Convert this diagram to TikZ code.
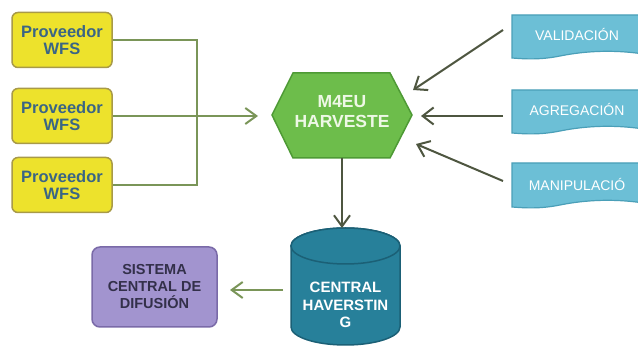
\documentclass[tikz,border=0pt]{standalone}
\usepackage{fontspec}
\setmainfont{Liberation Sans}
\usetikzlibrary{arrows.meta}
\definecolor{yfill}{HTML}{EDE22C}
\definecolor{ydraw}{HTML}{A89A48}
\definecolor{ytext}{HTML}{3A6585}
\definecolor{gfill}{HTML}{6DBD4B}
\definecolor{gdraw}{HTML}{4E9A35}
\definecolor{gtext}{HTML}{EEF8E6}
\definecolor{cfill}{HTML}{27809A}
\definecolor{cdraw}{HTML}{1B6076}
\definecolor{pfill}{HTML}{A294CF}
\definecolor{pdraw}{HTML}{7A6AA8}
\definecolor{ptext}{HTML}{33304A}
\definecolor{bfill}{HTML}{6CBFD6}
\definecolor{bdraw}{HTML}{4A9FB8}
\definecolor{lgreen}{HTML}{7A9558}
\definecolor{ldark}{HTML}{4E5640}
\tikzset{
  provbox/.style={draw=ydraw, fill=yfill, line width=1.5pt, rounded corners=6pt,
    minimum width=100pt, minimum height=55pt, align=center, text=ytext,
    font=\bfseries\fontsize{16.5}{17.5}\selectfont},
  conn/.style={draw=lgreen, line width=2pt},
  darr/.style={draw=ldark, line width=2pt, -{Straight Barb[length=11pt,width=17pt]}},
  garr/.style={draw=lgreen, line width=2pt, -{Straight Barb[length=11pt,width=16pt]}},
  doctext/.style={text=white, font=\fontsize{14}{16}\selectfont},
}
\begin{document}
\begin{tikzpicture}[x=1pt,y=-1pt]
\useasboundingbox (0,0) rectangle (638,347);
\clip (0,0) rectangle (638,347);
\fill[white] (0,0) rectangle (638,347);

% providers
\node[provbox] (p1) at (62,40) {Proveedor\\WFS};
\node[provbox] (p2) at (62,116) {Proveedor\\WFS};
\node[provbox] (p3) at (62,185) {Proveedor\\WFS};

% hexagon
\draw[fill=gfill, draw=gdraw, line width=1.5pt]
  (272,115) -- (293,73) -- (390,73) -- (412,115) -- (390,158) -- (293,158) -- cycle;
\coordinate (hexL) at (258,116);
\coordinate (hexB) at (342,158);
\node[text=gtext, align=center, font=\bfseries\fontsize{17.5}{20}\selectfont] (hex) at (342,112) {M4EU\\HARVESTE};

% cylinder
\draw[fill=cfill, draw=cdraw, line width=1.5pt]
  (291,246) -- (291,327) arc[start angle=180, end angle=0, x radius=54.5, y radius=18]
  -- (400,246) arc[start angle=360, end angle=180, x radius=54.5, y radius=18] -- cycle;
\draw[fill=cfill, draw=cdraw, line width=1.5pt] (345.5,246) ellipse[x radius=54.5, y radius=18];
\coordinate (cylT) at (342,228);
\coordinate (cylL) at (283,290);
\node[text=white, align=center, font=\bfseries\fontsize{15}{17.5}\selectfont] (cyl) at (345.5,305) {CENTRAL\\HAVERSTIN\\G};

% dissemination system
\node[draw=pdraw, fill=pfill, line width=1.5pt, rounded corners=8pt,
  minimum width=125pt, minimum height=80pt, align=center, text=ptext,
  font=\bfseries\fontsize{14.5}{17}\selectfont] (sis) at (154.5,287)
  {SISTEMA\\CENTRAL DE\\DIFUSIÓN};
\coordinate (sisR) at (230,290);

% documents
\foreach \t/\b in {15/58, 90/133, 163/207}{
  \draw[fill=bfill, draw=bdraw, line width=1.2pt]
    (512,\t) -- (650,\t) -- (650,\b-3)
    .. controls (615,\b-9) and (585,\b-7) .. (560,\b-2)
    .. controls (540,\b+2) and (525,\b+1) .. (512,\b) -- cycle;
}
\node[doctext] (val) at (577,35) {VALIDACIÓN};
\node[doctext] (agr) at (577,110) {AGREGACIÓN};
\node[doctext] (man) at (577,185) {MANIPULACIÓ};
\coordinate (v0) at (503,30);
\coordinate (v1) at (413,90);
\coordinate (g0) at (503,116);
\coordinate (g1) at (421,116);
\coordinate (m0) at (503,181);
\coordinate (m1) at (416,144);

% connectors
\draw[conn] (p1.east) -- (197,40) -- (197,185) -- (p3.east);
\draw[garr] (p2.east) -- (hexL);
\draw[darr] (v0) -- (v1);
\draw[darr] (g0) -- (g1);
\draw[darr] (m0) -- (m1);
\draw[garr, draw=ldark] (hexB) -- (cylT);
\draw[garr] (cylL) -- (sisR);
\end{tikzpicture}
\end{document}
